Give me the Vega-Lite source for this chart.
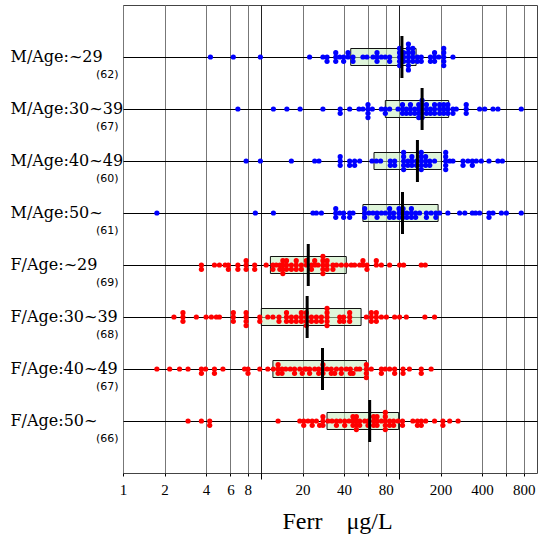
{
"$schema": "https://vega.github.io/schema/vega-lite/v6.json",
"width": 414, "height": 468,
"autosize": {"type": "none"},
"padding": {"left": 123, "top": 5, "right": 2, "bottom": 65},
"background": "white",
"config": {"view": {"stroke": "#444", "strokeWidth": 1}},
"datasets": {
"box": [
{"g":"M/Age:~29","lo":44.7,"hi":133,"med":105},
{"g":"M/Age:30~39","lo":79.6,"hi":229,"med":147},
{"g":"M/Age:40~49","lo":65.9,"hi":203,"med":136},
{"g":"M/Age:50~","lo":54.8,"hi":192,"med":106},
{"g":"F/Age:~29","lo":11.7,"hi":41.5,"med":22.0},
{"g":"F/Age:30~39","lo":10.05,"hi":53.1,"med":21.6},
{"g":"F/Age:40~49","lo":12.2,"hi":58.0,"med":27.9},
{"g":"F/Age:50~","lo":30.1,"hi":99.5,"med":61.3}
],
"pts": [
{"g":"M/Age:~29","v":4.3,"k":0},{"g":"M/Age:~29","v":6.3,"k":0},{"g":"M/Age:~29","v":9.9,"k":0},{"g":"M/Age:~29","v":22.5,"k":0},{"g":"M/Age:~29","v":28.1,"k":0},
{"g":"M/Age:~29","v":30.1,"k":0},{"g":"M/Age:~29","v":30.1,"k":1},
{"g":"M/Age:~29","v":34.8,"k":-1},{"g":"M/Age:~29","v":34.8,"k":0},{"g":"M/Age:~29","v":34.8,"k":1},
{"g":"M/Age:~29","v":37.2,"k":0},
{"g":"M/Age:~29","v":39.7,"k":0},{"g":"M/Age:~29","v":39.7,"k":1},
{"g":"M/Age:~29","v":42.7,"k":0},{"g":"M/Age:~29","v":42.7,"k":-1},
{"g":"M/Age:~29","v":46.4,"k":0},{"g":"M/Age:~29","v":46.4,"k":1},
{"g":"M/Age:~29","v":54.8,"k":0},{"g":"M/Age:~29","v":58.6,"k":0},{"g":"M/Age:~29","v":64.8,"k":0},
{"g":"M/Age:~29","v":69.3,"k":-1},{"g":"M/Age:~29","v":69.3,"k":0},{"g":"M/Age:~29","v":69.3,"k":1},
{"g":"M/Age:~29","v":74.5,"k":0},{"g":"M/Age:~29","v":79.6,"k":0},
{"g":"M/Age:~29","v":85.5,"k":0},{"g":"M/Age:~29","v":85.5,"k":1},
{"g":"M/Age:~29","v":101,"k":-2},{"g":"M/Age:~29","v":101,"k":-1},{"g":"M/Age:~29","v":101,"k":0},{"g":"M/Age:~29","v":101,"k":1},{"g":"M/Age:~29","v":101,"k":2},
{"g":"M/Age:~29","v":108,"k":-1},{"g":"M/Age:~29","v":108,"k":0},{"g":"M/Age:~29","v":108,"k":1},
{"g":"M/Age:~29","v":117,"k":-3},{"g":"M/Age:~29","v":117,"k":-2},{"g":"M/Age:~29","v":117,"k":-1},{"g":"M/Age:~29","v":117,"k":0},{"g":"M/Age:~29","v":117,"k":1},{"g":"M/Age:~29","v":117,"k":2},{"g":"M/Age:~29","v":117,"k":3},
{"g":"M/Age:~29","v":126,"k":-2},{"g":"M/Age:~29","v":126,"k":-1},{"g":"M/Age:~29","v":126,"k":0},{"g":"M/Age:~29","v":126,"k":1},
{"g":"M/Age:~29","v":136,"k":0},{"g":"M/Age:~29","v":136,"k":1},
{"g":"M/Age:~29","v":145,"k":0},{"g":"M/Age:~29","v":145,"k":1},
{"g":"M/Age:~29","v":169,"k":0},{"g":"M/Age:~29","v":169,"k":1},
{"g":"M/Age:~29","v":181,"k":-1},{"g":"M/Age:~29","v":181,"k":0},{"g":"M/Age:~29","v":181,"k":1},
{"g":"M/Age:~29","v":194,"k":0},
{"g":"M/Age:~29","v":211,"k":-2},{"g":"M/Age:~29","v":211,"k":-1},{"g":"M/Age:~29","v":211,"k":0},{"g":"M/Age:~29","v":211,"k":1},{"g":"M/Age:~29","v":211,"k":2},
{"g":"M/Age:~29","v":246,"k":0},

{"g":"M/Age:30~39","v":6.8,"k":0},{"g":"M/Age:30~39","v":12.3,"k":0},{"g":"M/Age:30~39","v":15.4,"k":0},{"g":"M/Age:30~39","v":19.2,"k":0},{"g":"M/Age:30~39","v":28.1,"k":0},
{"g":"M/Age:30~39","v":37.5,"k":0},{"g":"M/Age:30~39","v":37.5,"k":1},
{"g":"M/Age:30~39","v":43.9,"k":0},{"g":"M/Age:30~39","v":51.3,"k":0},{"g":"M/Age:30~39","v":54.8,"k":0},
{"g":"M/Age:30~39","v":59.6,"k":-1},{"g":"M/Age:30~39","v":59.6,"k":0},{"g":"M/Age:30~39","v":59.6,"k":1},{"g":"M/Age:30~39","v":59.6,"k":2},
{"g":"M/Age:30~39","v":64.1,"k":0},{"g":"M/Age:30~39","v":74.5,"k":0},
{"g":"M/Age:30~39","v":79.6,"k":0},{"g":"M/Age:30~39","v":79.6,"k":1},
{"g":"M/Age:30~39","v":85.5,"k":0},{"g":"M/Age:30~39","v":98.4,"k":0},
{"g":"M/Age:30~39","v":106,"k":-1},{"g":"M/Age:30~39","v":106,"k":0},{"g":"M/Age:30~39","v":106,"k":1},
{"g":"M/Age:30~39","v":113,"k":0},{"g":"M/Age:30~39","v":113,"k":1},
{"g":"M/Age:30~39","v":121,"k":-1},{"g":"M/Age:30~39","v":121,"k":0},{"g":"M/Age:30~39","v":121,"k":1},
{"g":"M/Age:30~39","v":130,"k":0},{"g":"M/Age:30~39","v":130,"k":1},
{"g":"M/Age:30~39","v":139,"k":-1},{"g":"M/Age:30~39","v":139,"k":0},{"g":"M/Age:30~39","v":139,"k":1},{"g":"M/Age:30~39","v":139,"k":2},
{"g":"M/Age:30~39","v":147,"k":-2},{"g":"M/Age:30~39","v":147,"k":-1},{"g":"M/Age:30~39","v":147,"k":0},{"g":"M/Age:30~39","v":147,"k":1},{"g":"M/Age:30~39","v":147,"k":2},
{"g":"M/Age:30~39","v":158,"k":-1},{"g":"M/Age:30~39","v":158,"k":0},{"g":"M/Age:30~39","v":158,"k":1},
{"g":"M/Age:30~39","v":169,"k":0},{"g":"M/Age:30~39","v":169,"k":1},
{"g":"M/Age:30~39","v":181,"k":-1},{"g":"M/Age:30~39","v":181,"k":0},{"g":"M/Age:30~39","v":181,"k":1},
{"g":"M/Age:30~39","v":197,"k":-1},{"g":"M/Age:30~39","v":197,"k":0},{"g":"M/Age:30~39","v":197,"k":1},
{"g":"M/Age:30~39","v":211,"k":-1},{"g":"M/Age:30~39","v":211,"k":0},{"g":"M/Age:30~39","v":211,"k":1},
{"g":"M/Age:30~39","v":226,"k":-1},{"g":"M/Age:30~39","v":226,"k":0},{"g":"M/Age:30~39","v":226,"k":1},
{"g":"M/Age:30~39","v":246,"k":0},{"g":"M/Age:30~39","v":246,"k":1},
{"g":"M/Age:30~39","v":260,"k":0},
{"g":"M/Age:30~39","v":307,"k":-1},{"g":"M/Age:30~39","v":307,"k":0},{"g":"M/Age:30~39","v":307,"k":1},
{"g":"M/Age:30~39","v":384,"k":0},{"g":"M/Age:30~39","v":418,"k":0},{"g":"M/Age:30~39","v":480,"k":0},{"g":"M/Age:30~39","v":521,"k":0},{"g":"M/Age:30~39","v":769,"k":0},

{"g":"M/Age:40~49","v":7.8,"k":0},{"g":"M/Age:40~49","v":9.9,"k":0},{"g":"M/Age:40~49","v":16.6,"k":0},{"g":"M/Age:40~49","v":24.5,"k":0},{"g":"M/Age:40~49","v":26.3,"k":0},
{"g":"M/Age:40~49","v":37.5,"k":-1},{"g":"M/Age:40~49","v":37.5,"k":0},{"g":"M/Age:40~49","v":37.5,"k":1},
{"g":"M/Age:40~49","v":43.9,"k":0},{"g":"M/Age:40~49","v":43.9,"k":1},
{"g":"M/Age:40~49","v":47.7,"k":0},{"g":"M/Age:40~49","v":47.7,"k":1},
{"g":"M/Age:40~49","v":51.9,"k":0},{"g":"M/Age:40~49","v":63.7,"k":0},{"g":"M/Age:40~49","v":68.5,"k":0},{"g":"M/Age:40~49","v":73.6,"k":0},
{"g":"M/Age:40~49","v":86.5,"k":0},{"g":"M/Age:40~49","v":86.5,"k":1},
{"g":"M/Age:40~49","v":93,"k":0},{"g":"M/Age:40~49","v":93,"k":1},
{"g":"M/Age:40~49","v":108,"k":-2},{"g":"M/Age:40~49","v":108,"k":-1},{"g":"M/Age:40~49","v":108,"k":0},{"g":"M/Age:40~49","v":108,"k":1},{"g":"M/Age:40~49","v":108,"k":2},
{"g":"M/Age:40~49","v":116,"k":0},{"g":"M/Age:40~49","v":116,"k":1},
{"g":"M/Age:40~49","v":124,"k":-1},{"g":"M/Age:40~49","v":124,"k":0},{"g":"M/Age:40~49","v":124,"k":1},
{"g":"M/Age:40~49","v":134,"k":0},{"g":"M/Age:40~49","v":134,"k":1},
{"g":"M/Age:40~49","v":145,"k":-2},{"g":"M/Age:40~49","v":145,"k":-1},{"g":"M/Age:40~49","v":145,"k":0},{"g":"M/Age:40~49","v":145,"k":1},{"g":"M/Age:40~49","v":145,"k":2},
{"g":"M/Age:40~49","v":156,"k":-1},{"g":"M/Age:40~49","v":156,"k":0},{"g":"M/Age:40~49","v":156,"k":1},
{"g":"M/Age:40~49","v":167,"k":0},{"g":"M/Age:40~49","v":167,"k":1},
{"g":"M/Age:40~49","v":181,"k":0},
{"g":"M/Age:40~49","v":218,"k":-2},{"g":"M/Age:40~49","v":218,"k":-1},{"g":"M/Age:40~49","v":218,"k":0},{"g":"M/Age:40~49","v":218,"k":1},{"g":"M/Age:40~49","v":218,"k":2},
{"g":"M/Age:40~49","v":233,"k":0},{"g":"M/Age:40~49","v":246,"k":0},
{"g":"M/Age:40~49","v":291,"k":0},{"g":"M/Age:40~49","v":291,"k":1},
{"g":"M/Age:40~49","v":316,"k":0},
{"g":"M/Age:40~49","v":340,"k":0},{"g":"M/Age:40~49","v":340,"k":1},
{"g":"M/Age:40~49","v":363,"k":0},{"g":"M/Age:40~49","v":395,"k":0},{"g":"M/Age:40~49","v":449,"k":0},{"g":"M/Age:40~49","v":521,"k":0},{"g":"M/Age:40~49","v":561,"k":0},

{"g":"M/Age:50~","v":1.76,"k":0},{"g":"M/Age:50~","v":9.1,"k":0},{"g":"M/Age:50~","v":12.3,"k":0},{"g":"M/Age:50~","v":23.8,"k":0},{"g":"M/Age:50~","v":25.2,"k":0},{"g":"M/Age:50~","v":27.4,"k":0},
{"g":"M/Age:50~","v":34.8,"k":-1},{"g":"M/Age:50~","v":34.8,"k":0},{"g":"M/Age:50~","v":34.8,"k":1},
{"g":"M/Age:50~","v":37.2,"k":0},
{"g":"M/Age:50~","v":39.7,"k":0},{"g":"M/Age:50~","v":39.7,"k":1},
{"g":"M/Age:50~","v":43.9,"k":0},{"g":"M/Age:50~","v":43.9,"k":1},
{"g":"M/Age:50~","v":46.4,"k":0},
{"g":"M/Age:50~","v":56.4,"k":-1},{"g":"M/Age:50~","v":56.4,"k":0},{"g":"M/Age:50~","v":56.4,"k":1},
{"g":"M/Age:50~","v":60.6,"k":0},{"g":"M/Age:50~","v":64.8,"k":0},
{"g":"M/Age:50~","v":69.3,"k":0},{"g":"M/Age:50~","v":69.3,"k":1},
{"g":"M/Age:50~","v":74.5,"k":0},{"g":"M/Age:50~","v":79.6,"k":0},
{"g":"M/Age:50~","v":85.5,"k":-1},{"g":"M/Age:50~","v":85.5,"k":0},{"g":"M/Age:50~","v":85.5,"k":1},
{"g":"M/Age:50~","v":91.4,"k":0},{"g":"M/Age:50~","v":91.4,"k":1},
{"g":"M/Age:50~","v":100,"k":-1},{"g":"M/Age:50~","v":100,"k":0},{"g":"M/Age:50~","v":100,"k":1},
{"g":"M/Age:50~","v":107,"k":-1},{"g":"M/Age:50~","v":107,"k":0},{"g":"M/Age:50~","v":107,"k":1},
{"g":"M/Age:50~","v":114,"k":0},{"g":"M/Age:50~","v":114,"k":1},
{"g":"M/Age:50~","v":123,"k":-1},{"g":"M/Age:50~","v":123,"k":0},{"g":"M/Age:50~","v":123,"k":1},
{"g":"M/Age:50~","v":132,"k":0},{"g":"M/Age:50~","v":132,"k":1},
{"g":"M/Age:50~","v":141,"k":0},
{"g":"M/Age:50~","v":158,"k":0},{"g":"M/Age:50~","v":158,"k":1},
{"g":"M/Age:50~","v":171,"k":0},
{"g":"M/Age:50~","v":185,"k":0},{"g":"M/Age:50~","v":185,"k":1},
{"g":"M/Age:50~","v":197,"k":0},{"g":"M/Age:50~","v":226,"k":0},{"g":"M/Age:50~","v":275,"k":0},{"g":"M/Age:50~","v":300,"k":0},{"g":"M/Age:50~","v":340,"k":0},{"g":"M/Age:50~","v":359,"k":0},{"g":"M/Age:50~","v":384,"k":0},
{"g":"M/Age:50~","v":449,"k":0},{"g":"M/Age:50~","v":449,"k":1},
{"g":"M/Age:50~","v":480,"k":0},{"g":"M/Age:50~","v":552,"k":0},{"g":"M/Age:50~","v":600,"k":0},{"g":"M/Age:50~","v":769,"k":0},

{"g":"F/Age:~29","v":3.7,"k":0},{"g":"F/Age:~29","v":3.7,"k":1},
{"g":"F/Age:~29","v":4.6,"k":0},{"g":"F/Age:~29","v":5.0,"k":0},{"g":"F/Age:~29","v":5.5,"k":0},
{"g":"F/Age:~29","v":5.8,"k":0},{"g":"F/Age:~29","v":5.8,"k":1},
{"g":"F/Age:~29","v":6.8,"k":0},{"g":"F/Age:~29","v":6.8,"k":1},
{"g":"F/Age:~29","v":7.8,"k":-1},{"g":"F/Age:~29","v":7.8,"k":0},{"g":"F/Age:~29","v":7.8,"k":1},
{"g":"F/Age:~29","v":9.0,"k":0},{"g":"F/Age:~29","v":9.0,"k":1},
{"g":"F/Age:~29","v":10.9,"k":0},
{"g":"F/Age:~29","v":12.2,"k":0},{"g":"F/Age:~29","v":12.2,"k":1},
{"g":"F/Age:~29","v":12.9,"k":0},
{"g":"F/Age:~29","v":13.7,"k":0},{"g":"F/Age:~29","v":13.7,"k":1},
{"g":"F/Age:~29","v":14.4,"k":-1},{"g":"F/Age:~29","v":14.4,"k":0},{"g":"F/Age:~29","v":14.4,"k":1},{"g":"F/Age:~29","v":14.4,"k":2},
{"g":"F/Age:~29","v":15.3,"k":-1},{"g":"F/Age:~29","v":15.3,"k":0},{"g":"F/Age:~29","v":15.3,"k":1},
{"g":"F/Age:~29","v":16.6,"k":0},{"g":"F/Age:~29","v":16.6,"k":1},
{"g":"F/Age:~29","v":18.0,"k":-1},{"g":"F/Age:~29","v":18.0,"k":0},{"g":"F/Age:~29","v":18.0,"k":1},
{"g":"F/Age:~29","v":19.6,"k":0},{"g":"F/Age:~29","v":19.6,"k":1},
{"g":"F/Age:~29","v":21.3,"k":-1},{"g":"F/Age:~29","v":21.3,"k":0},
{"g":"F/Age:~29","v":23.2,"k":0},{"g":"F/Age:~29","v":23.2,"k":1},
{"g":"F/Age:~29","v":24.5,"k":0},{"g":"F/Age:~29","v":24.5,"k":-1},
{"g":"F/Age:~29","v":25.9,"k":0},
{"g":"F/Age:~29","v":28.1,"k":-2},{"g":"F/Age:~29","v":28.1,"k":-1},{"g":"F/Age:~29","v":28.1,"k":0},{"g":"F/Age:~29","v":28.1,"k":1},{"g":"F/Age:~29","v":28.1,"k":2},
{"g":"F/Age:~29","v":30.1,"k":-1},{"g":"F/Age:~29","v":30.1,"k":0},{"g":"F/Age:~29","v":30.1,"k":1},
{"g":"F/Age:~29","v":33.2,"k":0},{"g":"F/Age:~29","v":33.2,"k":1},
{"g":"F/Age:~29","v":35.2,"k":0},{"g":"F/Age:~29","v":38.2,"k":0},{"g":"F/Age:~29","v":41.5,"k":0},{"g":"F/Age:~29","v":45.1,"k":0},{"g":"F/Age:~29","v":47.7,"k":0},{"g":"F/Age:~29","v":51.9,"k":0},
{"g":"F/Age:~29","v":54.8,"k":-1},{"g":"F/Age:~29","v":54.8,"k":0},
{"g":"F/Age:~29","v":58.6,"k":0},{"g":"F/Age:~29","v":58.6,"k":1},
{"g":"F/Age:~29","v":68.5,"k":-1},{"g":"F/Age:~29","v":68.5,"k":0},
{"g":"F/Age:~29","v":74.5,"k":0},{"g":"F/Age:~29","v":85.5,"k":0},{"g":"F/Age:~29","v":101,"k":0},{"g":"F/Age:~29","v":108,"k":0},{"g":"F/Age:~29","v":145,"k":0},{"g":"F/Age:~29","v":155,"k":0},

{"g":"F/Age:30~39","v":2.34,"k":0},
{"g":"F/Age:30~39","v":2.72,"k":-1},{"g":"F/Age:30~39","v":2.72,"k":0},{"g":"F/Age:30~39","v":2.72,"k":1},
{"g":"F/Age:30~39","v":3.4,"k":0},{"g":"F/Age:30~39","v":4.0,"k":0},{"g":"F/Age:30~39","v":4.37,"k":0},{"g":"F/Age:30~39","v":4.75,"k":0},{"g":"F/Age:30~39","v":5.0,"k":0},
{"g":"F/Age:30~39","v":6.3,"k":-1},{"g":"F/Age:30~39","v":6.3,"k":0},{"g":"F/Age:30~39","v":6.3,"k":1},
{"g":"F/Age:30~39","v":7.8,"k":-1},{"g":"F/Age:30~39","v":7.8,"k":0},{"g":"F/Age:30~39","v":7.8,"k":1},{"g":"F/Age:30~39","v":7.8,"k":2},
{"g":"F/Age:30~39","v":9.8,"k":0},{"g":"F/Age:30~39","v":9.8,"k":1},
{"g":"F/Age:30~39","v":11.2,"k":0},{"g":"F/Age:30~39","v":12.2,"k":0},
{"g":"F/Age:30~39","v":13.5,"k":0},{"g":"F/Age:30~39","v":13.5,"k":1},
{"g":"F/Age:30~39","v":15.3,"k":-1},{"g":"F/Age:30~39","v":15.3,"k":0},{"g":"F/Age:30~39","v":15.3,"k":1},
{"g":"F/Age:30~39","v":16.6,"k":0},{"g":"F/Age:30~39","v":16.6,"k":1},
{"g":"F/Age:30~39","v":18.0,"k":0},{"g":"F/Age:30~39","v":18.0,"k":1},
{"g":"F/Age:30~39","v":19.6,"k":-1},{"g":"F/Age:30~39","v":19.6,"k":0},{"g":"F/Age:30~39","v":19.6,"k":1},
{"g":"F/Age:30~39","v":21.3,"k":-1},{"g":"F/Age:30~39","v":21.3,"k":0},{"g":"F/Age:30~39","v":21.3,"k":1},{"g":"F/Age:30~39","v":21.3,"k":2},
{"g":"F/Age:30~39","v":23.2,"k":0},{"g":"F/Age:30~39","v":23.2,"k":1},
{"g":"F/Age:30~39","v":25.2,"k":0},{"g":"F/Age:30~39","v":25.2,"k":1},
{"g":"F/Age:30~39","v":27.4,"k":0},{"g":"F/Age:30~39","v":27.4,"k":1},
{"g":"F/Age:30~39","v":30.1,"k":-2},{"g":"F/Age:30~39","v":30.1,"k":-1},{"g":"F/Age:30~39","v":30.1,"k":0},{"g":"F/Age:30~39","v":30.1,"k":1},{"g":"F/Age:30~39","v":30.1,"k":2},
{"g":"F/Age:30~39","v":37.2,"k":0},{"g":"F/Age:30~39","v":37.2,"k":1},
{"g":"F/Age:30~39","v":39.7,"k":0},{"g":"F/Age:30~39","v":39.7,"k":1},
{"g":"F/Age:30~39","v":43.9,"k":-1},{"g":"F/Age:30~39","v":43.9,"k":0},{"g":"F/Age:30~39","v":43.9,"k":1},
{"g":"F/Age:30~39","v":58.0,"k":0},
{"g":"F/Age:30~39","v":63.0,"k":-1},{"g":"F/Age:30~39","v":63.0,"k":0},{"g":"F/Age:30~39","v":63.0,"k":1},
{"g":"F/Age:30~39","v":68.5,"k":-1},{"g":"F/Age:30~39","v":68.5,"k":0},{"g":"F/Age:30~39","v":68.5,"k":1},
{"g":"F/Age:30~39","v":74.5,"k":0},{"g":"F/Age:30~39","v":81,"k":0},{"g":"F/Age:30~39","v":93,"k":0},{"g":"F/Age:30~39","v":101,"k":0},{"g":"F/Age:30~39","v":113,"k":0},{"g":"F/Age:30~39","v":154,"k":0},{"g":"F/Age:30~39","v":181,"k":0},

{"g":"F/Age:40~49","v":1.76,"k":0},{"g":"F/Age:40~49","v":2.18,"k":0},{"g":"F/Age:40~49","v":2.57,"k":0},{"g":"F/Age:40~49","v":2.96,"k":0},
{"g":"F/Age:40~49","v":3.7,"k":0},{"g":"F/Age:40~49","v":3.7,"k":1},
{"g":"F/Age:40~49","v":3.97,"k":0},
{"g":"F/Age:40~49","v":4.6,"k":0},{"g":"F/Age:40~49","v":4.6,"k":1},
{"g":"F/Age:40~49","v":5.3,"k":0},{"g":"F/Age:40~49","v":7.6,"k":0},
{"g":"F/Age:40~49","v":8.05,"k":0},{"g":"F/Age:40~49","v":8.05,"k":1},
{"g":"F/Age:40~49","v":9.8,"k":0},{"g":"F/Age:40~49","v":11.2,"k":0},{"g":"F/Age:40~49","v":12.3,"k":0},
{"g":"F/Age:40~49","v":13.3,"k":-1},{"g":"F/Age:40~49","v":13.3,"k":0},{"g":"F/Age:40~49","v":13.3,"k":1},
{"g":"F/Age:40~49","v":14.2,"k":0},{"g":"F/Age:40~49","v":14.2,"k":1},
{"g":"F/Age:40~49","v":15.1,"k":0},{"g":"F/Age:40~49","v":16.3,"k":0},
{"g":"F/Age:40~49","v":17.5,"k":0},{"g":"F/Age:40~49","v":17.5,"k":1},
{"g":"F/Age:40~49","v":19.1,"k":0},{"g":"F/Age:40~49","v":19.9,"k":1},{"g":"F/Age:40~49","v":20.7,"k":0},{"g":"F/Age:40~49","v":21.3,"k":0},
{"g":"F/Age:40~49","v":22.5,"k":0},{"g":"F/Age:40~49","v":22.5,"k":1},
{"g":"F/Age:40~49","v":24.5,"k":0},
{"g":"F/Age:40~49","v":26.2,"k":0},{"g":"F/Age:40~49","v":26.2,"k":1},
{"g":"F/Age:40~49","v":28.1,"k":-1},{"g":"F/Age:40~49","v":28.1,"k":0},{"g":"F/Age:40~49","v":28.1,"k":1},
{"g":"F/Age:40~49","v":30.1,"k":0},
{"g":"F/Age:40~49","v":32.3,"k":0},{"g":"F/Age:40~49","v":32.3,"k":1},
{"g":"F/Age:40~49","v":34.2,"k":1},{"g":"F/Age:40~49","v":35.2,"k":0},
{"g":"F/Age:40~49","v":38.2,"k":0},{"g":"F/Age:40~49","v":38.2,"k":1},
{"g":"F/Age:40~49","v":41.5,"k":0},
{"g":"F/Age:40~49","v":44.4,"k":0},{"g":"F/Age:40~49","v":44.4,"k":1},
{"g":"F/Age:40~49","v":46.4,"k":1},{"g":"F/Age:40~49","v":49.1,"k":0},{"g":"F/Age:40~49","v":51.9,"k":0},
{"g":"F/Age:40~49","v":58.0,"k":-1},{"g":"F/Age:40~49","v":58.0,"k":0},{"g":"F/Age:40~49","v":58.0,"k":1},{"g":"F/Age:40~49","v":58.0,"k":2},
{"g":"F/Age:40~49","v":63.0,"k":0},
{"g":"F/Age:40~49","v":74.5,"k":0},{"g":"F/Age:40~49","v":74.5,"k":1},
{"g":"F/Age:40~49","v":79.6,"k":0},{"g":"F/Age:40~49","v":85.5,"k":0},
{"g":"F/Age:40~49","v":93,"k":0},{"g":"F/Age:40~49","v":93,"k":1},
{"g":"F/Age:40~49","v":107,"k":0},{"g":"F/Age:40~49","v":107,"k":1},
{"g":"F/Age:40~49","v":119,"k":0},
{"g":"F/Age:40~49","v":145,"k":0},{"g":"F/Age:40~49","v":145,"k":1},
{"g":"F/Age:40~49","v":171,"k":0},

{"g":"F/Age:50~","v":2.96,"k":0},{"g":"F/Age:50~","v":3.7,"k":0},
{"g":"F/Age:50~","v":4.25,"k":0},{"g":"F/Age:50~","v":4.25,"k":1},
{"g":"F/Age:50~","v":13.3,"k":0},{"g":"F/Age:50~","v":19.1,"k":0},
{"g":"F/Age:50~","v":20.4,"k":0},{"g":"F/Age:50~","v":20.4,"k":1},
{"g":"F/Age:50~","v":21.9,"k":0},
{"g":"F/Age:50~","v":23.5,"k":0},{"g":"F/Age:50~","v":23.5,"k":1},
{"g":"F/Age:50~","v":25.2,"k":0},{"g":"F/Age:50~","v":26.6,"k":1},
{"g":"F/Age:50~","v":28.1,"k":-1},{"g":"F/Age:50~","v":28.1,"k":0},{"g":"F/Age:50~","v":28.1,"k":1},
{"g":"F/Age:50~","v":30.6,"k":0},{"g":"F/Age:50~","v":32.7,"k":0},
{"g":"F/Age:50~","v":35.2,"k":0},{"g":"F/Age:50~","v":35.2,"k":1},
{"g":"F/Age:50~","v":37.5,"k":0},
{"g":"F/Age:50~","v":40.4,"k":0},{"g":"F/Age:50~","v":40.4,"k":1},
{"g":"F/Age:50~","v":43.4,"k":0},
{"g":"F/Age:50~","v":46.4,"k":-1},{"g":"F/Age:50~","v":46.4,"k":0},{"g":"F/Age:50~","v":46.4,"k":1},
{"g":"F/Age:50~","v":49.1,"k":-1},{"g":"F/Age:50~","v":49.1,"k":0},{"g":"F/Age:50~","v":49.1,"k":1},{"g":"F/Age:50~","v":49.1,"k":2},
{"g":"F/Age:50~","v":51.9,"k":0},{"g":"F/Age:50~","v":51.9,"k":1},
{"g":"F/Age:50~","v":56.4,"k":0},
{"g":"F/Age:50~","v":59.6,"k":0},{"g":"F/Age:50~","v":59.6,"k":1},
{"g":"F/Age:50~","v":65.5,"k":-1},{"g":"F/Age:50~","v":65.5,"k":0},{"g":"F/Age:50~","v":65.5,"k":1},
{"g":"F/Age:50~","v":69.3,"k":-1},{"g":"F/Age:50~","v":69.3,"k":0},{"g":"F/Age:50~","v":69.3,"k":1},
{"g":"F/Age:50~","v":74.5,"k":0},
{"g":"F/Age:50~","v":79.6,"k":-2},{"g":"F/Age:50~","v":79.6,"k":-1},{"g":"F/Age:50~","v":79.6,"k":0},{"g":"F/Age:50~","v":79.6,"k":1},{"g":"F/Age:50~","v":79.6,"k":2},
{"g":"F/Age:50~","v":85.5,"k":0},{"g":"F/Age:50~","v":85.5,"k":1},
{"g":"F/Age:50~","v":91.4,"k":0},{"g":"F/Age:50~","v":91.4,"k":1},
{"g":"F/Age:50~","v":98.4,"k":0},
{"g":"F/Age:50~","v":106,"k":0},{"g":"F/Age:50~","v":106,"k":1},
{"g":"F/Age:50~","v":126,"k":0},
{"g":"F/Age:50~","v":136,"k":0},{"g":"F/Age:50~","v":136,"k":1},
{"g":"F/Age:50~","v":145,"k":0},{"g":"F/Age:50~","v":145,"k":1},
{"g":"F/Age:50~","v":156,"k":0},{"g":"F/Age:50~","v":181,"k":0},
{"g":"F/Age:50~","v":208,"k":0},{"g":"F/Age:50~","v":208,"k":1},
{"g":"F/Age:50~","v":233,"k":0},{"g":"F/Age:50~","v":268,"k":0}
]
},
"layer": [
{
"data": {"name": "box"},
"mark": {"type": "bar", "size": 17, "fill": "#c4ecbc", "fillOpacity": 0.55, "stroke": "#111", "strokeWidth": 1},
"encoding": {
"y": {"field": "g", "type": "nominal",
"scale": {"type": "point", "padding": 1, "domain": ["M/Age:~29","M/Age:30~39","M/Age:40~49","M/Age:50~","F/Age:~29","F/Age:30~39","F/Age:40~49","F/Age:50~"]},
"axis": {"orient": "left", "title": null, "domain": false, "ticks": false, "grid": true, "gridColor": "#000", "gridWidth": 1, "gridOpacity": 1,
"labelAlign": "left", "labelPadding": 113, "labelFont": "DejaVu Serif", "labelFontSize": 16, "labelColor": "#000", "labelBaseline": "alphabetic", "labelOffset": 4, "labelLimit": 200}},
"x": {"field": "lo", "type": "quantitative",
"scale": {"type": "log", "domain": [1, 1000], "nice": false},
"axis": {"orient": "bottom", "values": [1,2,4,6,8,10,20,40,60,80,100,200,400,600,800], "format": "d",
"labelExpr": "indexof([10,60,100,600], datum.value) >= 0 ? '' : datum.label",
"labelOverlap": false, "labelFlush": false, "domain": false, "ticks": true, "tickSize": 3, "tickColor": "#000", "tickWidth": 1,
"grid": true, "gridColor": {"condition": {"test": "datum.value === 10 || datum.value === 100", "value": "#222"}, "value": "#777"}, "gridWidth": 1, "gridOpacity": 1,
"labelFont": "Liberation Serif", "labelFontSize": 15, "labelColor": "#000", "labelPadding": 6,
"title": "Ferr\u00a0\u00a0\u00a0\u00a0μg/L", "titleFont": "Liberation Serif", "titleFontSize": 24, "titleFontWeight": "normal", "titleColor": "#000", "titlePadding": 12, "titleX": 214}},
"x2": {"field": "hi"}
}
},
{
"data": {"name": "pts"},
"mark": {"type": "circle", "size": 27, "opacity": 1},
"encoding": {
"y": {"field": "g", "type": "nominal", "axis": null},
"yOffset": {"field": "k", "type": "quantitative", "scale": {"domain": [-10, 10], "range": [-43, 43]}},
"x": {"field": "v", "type": "quantitative", "axis": null},
"color": {"field": "g", "type": "nominal", "legend": null,
"scale": {"domain": ["M/Age:~29","M/Age:30~39","M/Age:40~49","M/Age:50~","F/Age:~29","F/Age:30~39","F/Age:40~49","F/Age:50~"],
"range": ["#0000ff","#0000ff","#0000ff","#0000ff","#ff0000","#ff0000","#ff0000","#ff0000"]}}
}
},
{
"data": {"name": "box"},
"mark": {"type": "tick", "size": 42, "thickness": 3, "color": "#000", "opacity": 1},
"encoding": {
"y": {"field": "g", "type": "nominal",
"axis": {"orient": "left", "title": null, "domain": false, "ticks": false, "grid": false,
"labelAlign": "right", "labelPadding": 5, "labelFont": "DejaVu Sans", "labelFontSize": 11, "labelColor": "#000", "labelBaseline": "middle", "labelOffset": 17,
"labelExpr": "['(62)','(67)','(60)','(61)','(69)','(68)','(67)','(66)'][indexof(['M/Age:~29','M/Age:30~39','M/Age:40~49','M/Age:50~','F/Age:~29','F/Age:30~39','F/Age:40~49','F/Age:50~'], datum.value)]"}},
"x": {"field": "med", "type": "quantitative",
"axis": {"orient": "bottom", "values": [10, 100], "labels": false, "grid": false, "domain": false, "ticks": true, "tickSize": 6, "tickColor": "#000", "tickWidth": 1, "title": null}}
}
}
],
"resolve": {"axis": {"x": "independent", "y": "independent"}}
}
